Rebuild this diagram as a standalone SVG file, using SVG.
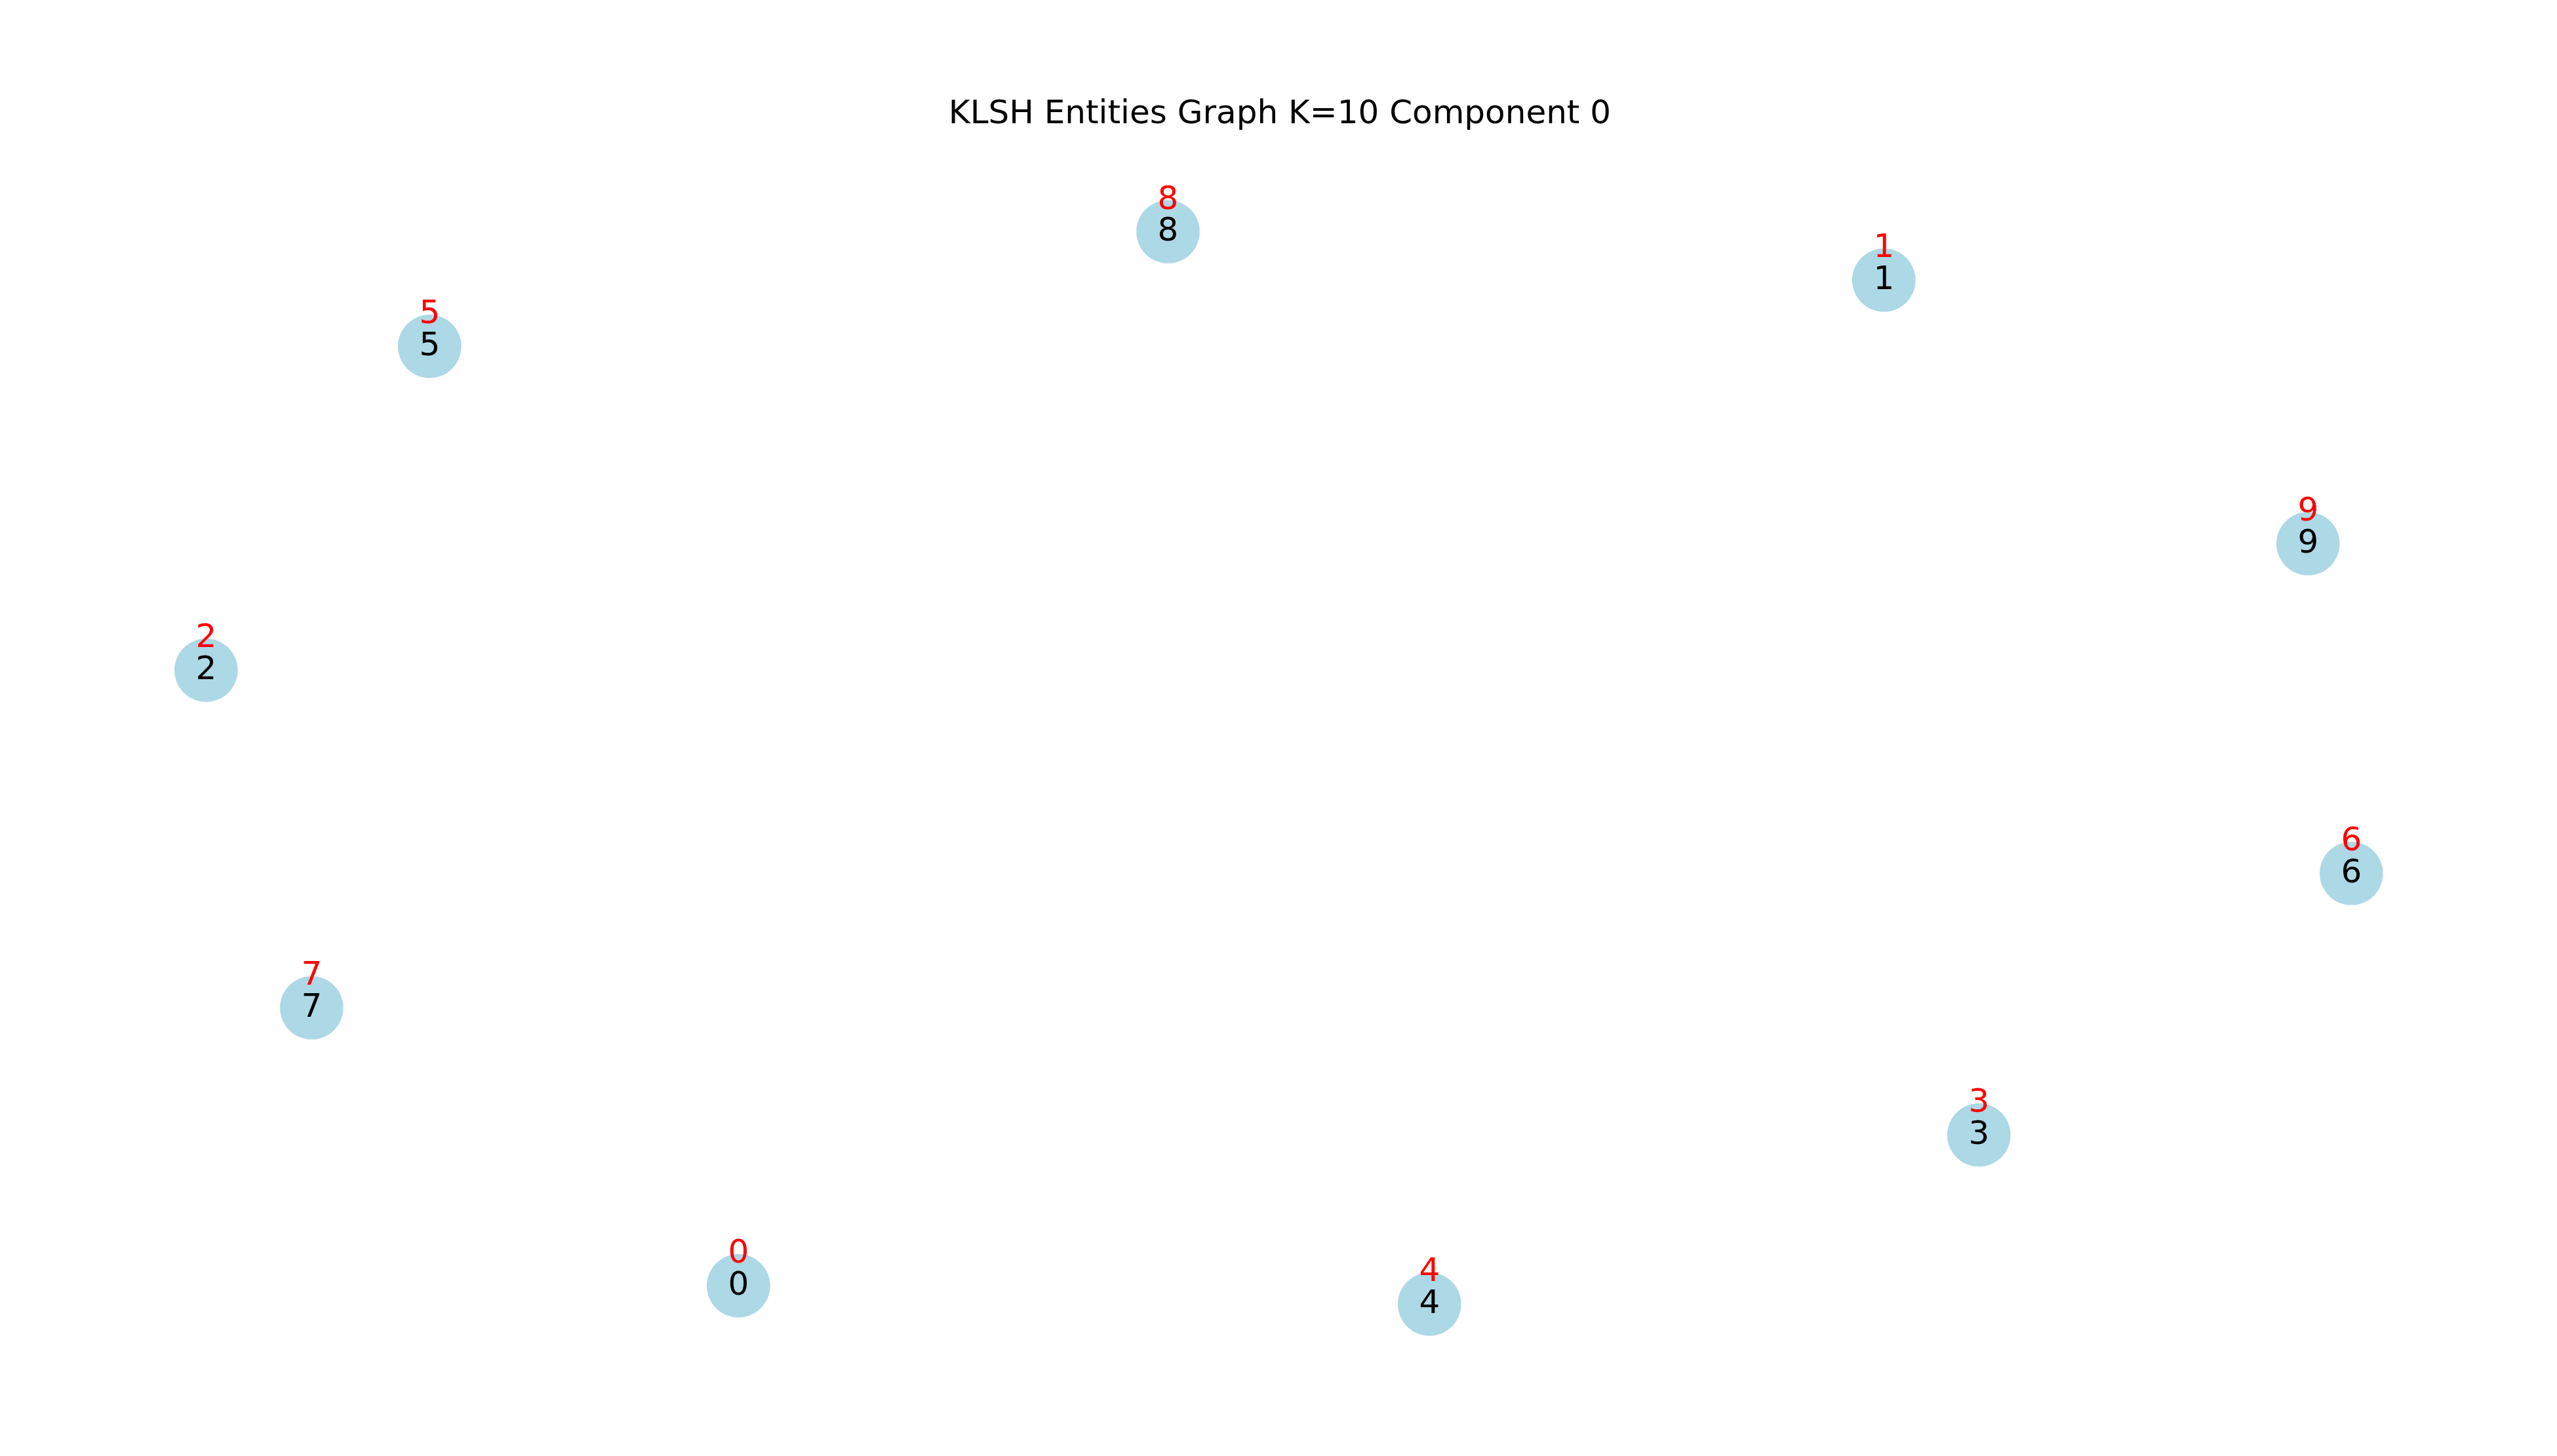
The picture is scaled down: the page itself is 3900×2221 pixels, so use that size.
<svg xmlns="http://www.w3.org/2000/svg" width="3900" height="2221" viewBox="0 0 3900 2221">
<style>
.n{fill:#ADD8E6}
.t{font-family:"DejaVu Sans",sans-serif;font-size:50px;text-anchor:middle;fill:#000}
.r{font-family:"DejaVu Sans",sans-serif;font-size:50px;text-anchor:middle;fill:#FF0000}
</style>
<rect width="3900" height="2221" fill="#fff"/>
<text class="t" x="1952" y="188">KLSH Entities Graph K=10 Component 0</text>
<g id="edges"></g>
<g id="node0"><circle class="n" cx="1126.3" cy="1961.3" r="48.3"/><text class="t" x="1126.3" y="1975">0</text><text class="r" x="1126.3" y="1926.3">0</text></g>
<g id="node1"><circle class="n" cx="2873.3" cy="427.3" r="48.3"/><text class="t" x="2873.3" y="441">1</text><text class="r" x="2873.3" y="392.3">1</text></g>
<g id="node2"><circle class="n" cx="314.3" cy="1022.3" r="48.3"/><text class="t" x="314.3" y="1036">2</text><text class="r" x="314.3" y="987.3">2</text></g>
<g id="node3"><circle class="n" cx="3018.3" cy="1731.3" r="48.3"/><text class="t" x="3018.3" y="1745">3</text><text class="r" x="3018.3" y="1696.3">3</text></g>
<g id="node4"><circle class="n" cx="2180.3" cy="1989.3" r="48.3"/><text class="t" x="2180.3" y="2003">4</text><text class="r" x="2180.3" y="1954.3">4</text></g>
<g id="node5"><circle class="n" cx="655.3" cy="528.3" r="48.3"/><text class="t" x="655.3" y="542">5</text><text class="r" x="655.3" y="493.3">5</text></g>
<g id="node6"><circle class="n" cx="3586.3" cy="1332.3" r="48.3"/><text class="t" x="3586.3" y="1346">6</text><text class="r" x="3586.3" y="1297.3">6</text></g>
<g id="node7"><circle class="n" cx="475.3" cy="1537.3" r="48.3"/><text class="t" x="475.3" y="1551">7</text><text class="r" x="475.3" y="1502.3">7</text></g>
<g id="node8"><circle class="n" cx="1781.5" cy="353.5" r="48.3"/><text class="t" x="1781.5" y="367.2">8</text><text class="r" x="1781.5" y="318.5">8</text></g>
<g id="node9"><circle class="n" cx="3520.3" cy="829.3" r="48.3"/><text class="t" x="3520.3" y="843">9</text><text class="r" x="3520.3" y="794.3">9</text></g>
</svg>
